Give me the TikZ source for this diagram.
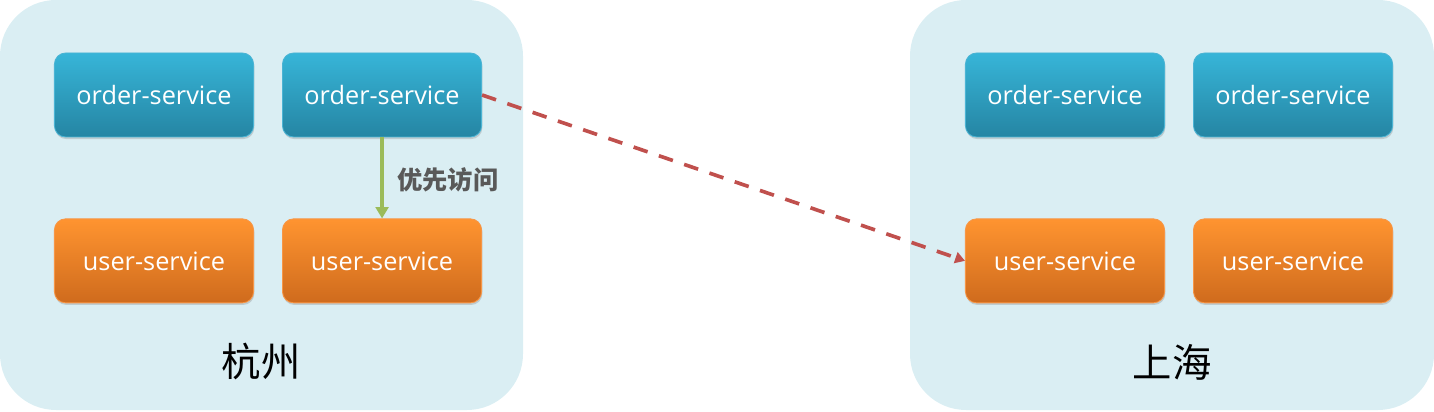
\documentclass[tikz,border=0pt]{standalone}
\usepackage{fontspec}
\setmainfont{Open Sans}
\newfontfamily\cjk{Noto Sans CJK SC}
\usepackage{tikz}
\usetikzlibrary{positioning}
\usetikzlibrary{backgrounds}
\usetikzlibrary{shadows}
\usetikzlibrary{arrows.meta}
\definecolor{regionbg}{HTML}{DAEEF3}
\definecolor{bluetop}{HTML}{37B5D8}
\definecolor{bluebot}{HTML}{2585A3}
\definecolor{blueline}{HTML}{4BB4D4}
\definecolor{orangetop}{HTML}{FF9430}
\definecolor{orangebot}{HTML}{CF6B1D}
\definecolor{orangeline}{HTML}{F79646}
\definecolor{linkgreen}{HTML}{9BBB59}
\definecolor{linkred}{HTML}{C0504D}
\definecolor{labelgray}{HTML}{595959}

\begin{document}
\begin{tikzpicture}[node distance=2.025cm and 0.7cm,
  svc/.style={rounded corners=0.28cm,minimum width=4.98cm,minimum height=2.1cm,
    line width=0.6pt,text=white,font=\fontsize{18}{21}\selectfont,
    drop shadow={shadow xshift=0.5pt,shadow yshift=-1.5pt,opacity=0.3}},
  ordersvc/.style={svc,draw=blueline,top color=bluetop,bottom color=bluebot},
  usersvc/.style={svc,draw=orangeline,top color=orangetop,bottom color=orangebot},
  city/.style={font=\cjk\fontsize{28}{32}\selectfont}]
  \useasboundingbox (0,0) rectangle (35.85,10.275);
  % Hangzhou
  \node[ordersvc](order1) at (3.85,7.9) {order-service};
  \node[ordersvc,right= of order1](order2) {order-service};
  \node[usersvc,below= of order1](user1) {user-service};
  \node[usersvc,below= of order2](user2) {user-service};
  \node[city](hz) at (6.525,1.225) {杭州};
  % Shanghai
  \node[ordersvc](order3) at (26.625,7.9) {order-service};
  \node[ordersvc,right= of order3](order4) {order-service};
  \node[usersvc,below= of order3](user3) {user-service};
  \node[usersvc,below= of order4](user4) {user-service};
  \node[city](sh) at (29.3,1.225) {上海};
  \begin{scope}[on background layer]
    \fill[regionbg,rounded corners=1.4cm] (0,0.025) rectangle (13.075,10.275);
    \fill[regionbg,rounded corners=1.4cm] (22.75,0.025) rectangle (35.85,10.275);
  \end{scope}
  \draw[-{Triangle[width=9pt,length=8pt]},linkgreen,line width=2.6pt] (order2)--(user2)
    node[midway,right=0.22cm,yshift=-1.5pt,text=labelgray,font=\cjk\bfseries\fontsize{18}{20}\selectfont]{优先访问};
  \draw[-{Triangle[width=8pt,length=7pt]},linkred,line width=2.6pt,dash pattern=on 10.5pt off 8.5pt]
    (order2.east)--(user3.west);
\end{tikzpicture}
\end{document}
